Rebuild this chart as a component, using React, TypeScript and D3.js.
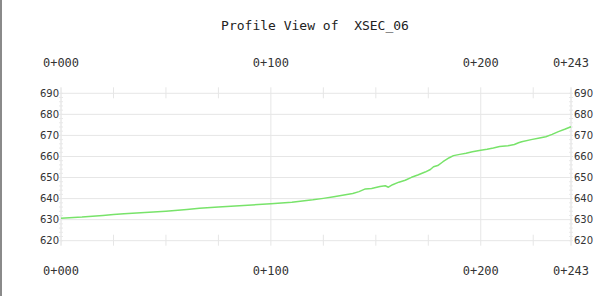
import React from "react";
import * as d3 from "d3";

const stations: number[] = [0, 10, 20, 25, 30, 40, 50, 60, 66, 75, 85, 100, 110, 120, 125, 130, 139, 142, 145, 148, 152, 154.5, 156, 158, 161, 164, 167, 170, 173.5, 176, 177.5, 179.5, 182, 185, 187, 190, 193, 196, 200, 203, 206, 209, 213, 216, 218, 219.5, 224, 228, 231, 234, 237, 240, 243];
const elevations: number[] = [630.7, 631.2, 632.0, 632.4, 632.8, 633.4, 634.0, 634.8, 635.4, 636.0, 636.6, 637.6, 638.3, 639.4, 640.1, 640.9, 642.4, 643.3, 644.6, 644.8, 645.7, 646.1, 645.4, 646.6, 647.8, 648.7, 650.1, 651.2, 652.6, 653.8, 655.1, 655.7, 657.5, 659.4, 660.4, 661.0, 661.5, 662.2, 663.0, 663.4, 664.0, 664.7, 665.1, 665.7, 666.5, 667.0, 668.0, 668.8, 669.4, 670.5, 671.8, 672.9, 674.1];
const stationLabels: { s: number; label: string }[] = [
  { s: 0, label: "0+000" },
  { s: 100, label: "0+100" },
  { s: 200, label: "0+200" },
  { s: 243, label: "0+243" },
];
const elevTicks: number[] = [620, 630, 640, 650, 660, 670, 680, 690];
const minorStations: number[] = [25, 50, 75, 125, 150, 175, 225];
const majorStations: number[] = [100, 200];
const title = "Profile View of  XSEC_06";

export default function App() {
  const W = 606, H = 296;
  const x = d3.scaleLinear().domain([0, 243]).range([61, 571]);
  const y = d3.scaleLinear().domain([620, 690]).range([240.7, 93.3]);
  const data = stations.map((s, i) => [s, elevations[i]] as [number, number]);
  const line = d3.line<[number, number]>().x(d => x(d[0])).y(d => y(d[1]));
  const minorElev = d3.range(620, 690.01, 2);
  const grid = "#e6e6e6";
  const txt = "#333";
  const mono = "'DejaVu Sans Mono', 'Liberation Mono', monospace";
  const [x0, x1] = x.range();
  const yTop = y(690), yBot = y(620);
  return (
    <svg width={W} height={H} style={{ position: "absolute", left: 0, top: 0, background: "#fff" }}>
      <rect x={0} y={0} width={W} height={H} fill="#fff" />
      <rect x={0} y={0} width={2} height={H} fill="#8a8a8a" />
      <text x={315} y={25} textAnchor="middle" dominantBaseline="central" fontFamily={mono} fontSize={13} fill="#222" style={{ whiteSpace: "pre" }} xmlSpace="preserve">{title}</text>
      {elevTicks.map(v => (
        <line key={"h" + v} x1={x0} x2={x1} y1={y(v)} y2={y(v)} stroke={grid} strokeWidth={1} />
      ))}
      {majorStations.map(s => (
        <line key={"v" + s} x1={x(s)} x2={x(s)} y1={yTop - 6} y2={yBot + 5} stroke={grid} strokeWidth={1} />
      ))}
      {minorStations.map(s => (
        <g key={"m" + s}>
          <line x1={x(s)} x2={x(s)} y1={yTop - 6} y2={yTop + 5} stroke={grid} strokeWidth={1} />
          <line x1={x(s)} x2={x(s)} y1={yBot - 6} y2={yBot + 5} stroke={grid} strokeWidth={1} />
        </g>
      ))}
      {[x0, x1].map((xx, k) => (
        <g key={"ax" + k}>
          <line x1={xx} x2={xx} y1={yTop - 6} y2={yBot + 5} stroke="#dcdcdc" strokeWidth={1} />
          {minorElev.map(v => (
            <line key={v} x1={xx - 2} x2={xx + 2} y1={y(v)} y2={y(v)} stroke="#e8e8e8" strokeWidth={1} />
          ))}
        </g>
      ))}
      {elevTicks.map(v => (
        <g key={"l" + v}>
          <text x={x0 - 2} y={y(v)} textAnchor="end" dominantBaseline="central" fontFamily="'DejaVu Sans', sans-serif" fontSize={10} fill={txt}>{v}</text>
          <text x={x1 + 3} y={y(v)} textAnchor="start" dominantBaseline="central" fontFamily="'DejaVu Sans', sans-serif" fontSize={10} fill={txt}>{v}</text>
        </g>
      ))}
      {stationLabels.map(d => (
        <g key={"s" + d.s}>
          <text x={x(d.s)} y={63} textAnchor="middle" dominantBaseline="central" fontFamily={mono} fontSize={12} fill={txt}>{d.label}</text>
          <text x={x(d.s)} y={271} textAnchor="middle" dominantBaseline="central" fontFamily={mono} fontSize={12} fill={txt}>{d.label}</text>
        </g>
      ))}
      <path d={line(data) || ""} fill="none" stroke="#78e36a" strokeWidth={1.5} strokeLinejoin="round" />
    </svg>
  );
}
